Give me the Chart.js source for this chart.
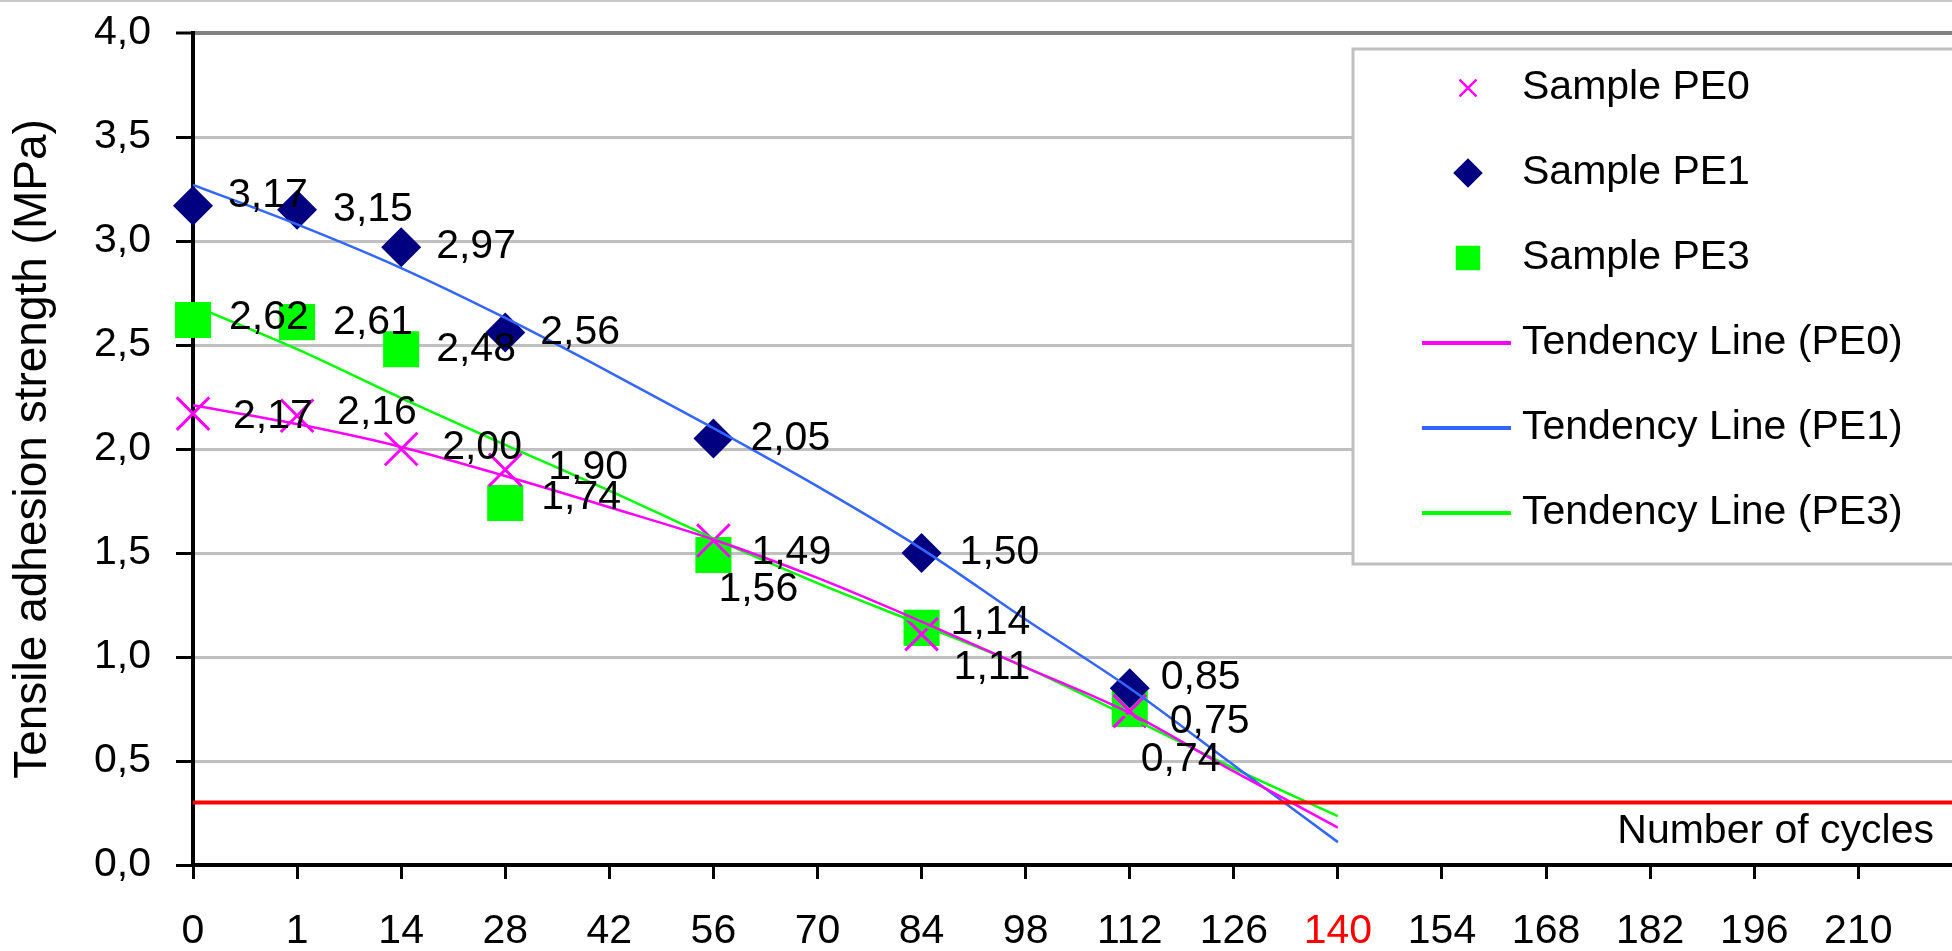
<!DOCTYPE html>
<html>
<head>
<meta charset="utf-8">
<title>Tensile adhesion strength</title>
<script src="https://cdn.jsdelivr.net/npm/chart.js@4.4.1/dist/chart.umd.min.js"></script>
<style>
  html, body { margin: 0; padding: 0; background: #fff; overflow: hidden; }
  canvas { display: block; }
</style>
</head>
<body>
<canvas id="adhesionChart" width="1952" height="951"></canvas>
<script>
// categories on the x axis (number of cycles)
const cycleTicks = [0, 1, 14, 28, 42, 56, 70, 84, 98, 112, 126, 140, 154, 168, 182, 196, 210];

// measured tensile adhesion strength (MPa)
const sampleCycles = [0, 1, 14, 28, 56, 84, 112];
const pe0Values = [2.17, 2.16, 2.00, 1.90, 1.56, 1.11, 0.74];
const pe1Values = [3.17, 3.15, 2.97, 2.56, 2.05, 1.50, 0.85];
const pe3Values = [2.62, 2.61, 2.48, 1.74, 1.49, 1.14, 0.75];

// tendency lines, cycles 0 .. 140
const trendCycles = [0, 1, 14, 28, 42, 56, 70, 84, 98, 112, 126, 140];
const trendPE0 = [2.21, 2.12, 2.01, 1.87, 1.72, 1.565, 1.38, 1.17, 0.95, 0.73, 0.45, 0.18];
const trendPE1 = [3.27, 3.08, 2.87, 2.63, 2.37, 2.10, 1.82, 1.52, 1.18, 0.85, 0.48, 0.11];
const trendPE3 = [2.69, 2.48, 2.245, 2.02, 1.80, 1.57, 1.355, 1.155, 0.95, 0.71, 0.465, 0.235];

// minimum required strength, and the cycle count where it is reached
const limitValue = 0.3;
const limitCycle = 140;

const yMin = 0, yMax = 4, yStep = 0.5;
const xAxisMax = 16.9;   // axis runs a little past the last label

const yTitle = 'Tensile adhesion strength (MPa)';
const xTitle = 'Number of cycles';

// label placement next to each point: [dx, dy] from the marker centre
const pe0LabelOffsets = [[40, 3], [40, -3], [41, -1], [43, -2], [5, 49], [32, 34], [11, 49]];
const pe1LabelOffsets = [[35, -10], [36, 0], [35, -1], [35, 0], [37, 0], [38, 0], [31, -11]];
const pe3LabelOffsets = [[36, -2], [36, 1], [35, 1], [36, -5], [38, -2], [29, -5], [40, 13]];

const FONT = '"Liberation Sans", Arial, sans-serif';
Chart.defaults.font.family = FONT;
Chart.defaults.font.size = 41;
Chart.defaults.color = '#000';

const pos = (c) => cycleTicks.indexOf(c);
const points = (xs, ys) => xs.map((c, i) => ({ x: pos(c), y: ys[i] }));
const fmt = (v, d) => v.toFixed(d).replace('.', ',');

const pe0Style = { pointStyle: 'crossRot', pointRadius: 23, pointBorderWidth: 3, pointBorderColor: '#ff00ff', pointBackgroundColor: '#ff00ff' };
const pe1Style = { pointStyle: 'rectRot', pointRadius: 20, pointBorderWidth: 0, pointBorderColor: '#000080', pointBackgroundColor: '#000080' };
const pe3Style = { pointStyle: 'rect', pointRadius: 25.5, pointBorderWidth: 0, pointBorderColor: '#00ff00', pointBackgroundColor: '#00ff00' };

function sampleSet(label, values, style, offsets) {
    return Object.assign({
        label: label,
        data: points(sampleCycles, values),
        showLine: false,
        clip: false,
        order: 3,
        labelOffsets: offsets
    }, style);
}

function trendSet(label, values, color) {
    return {
        label: label,
        data: points(trendCycles, values),
        showLine: true,
        borderColor: color,
        borderWidth: 2.5,
        pointRadius: 0,
        cubicInterpolationMode: 'monotone',
        order: 2
    };
}

const datasets = [
    sampleSet('Sample PE0', pe0Values, pe0Style, pe0LabelOffsets),
    sampleSet('Sample PE1', pe1Values, pe1Style, pe1LabelOffsets),
    sampleSet('Sample PE3', pe3Values, pe3Style, pe3LabelOffsets),
    trendSet('Tendency Line (PE0)', trendPE0, '#ff00ff'),
    trendSet('Tendency Line (PE1)', trendPE1, '#3366ff'),
    trendSet('Tendency Line (PE3)', trendPE3, '#00ff00'),
    {
        label: 'limit',
        data: [{ x: 0, y: limitValue }, { x: xAxisMax, y: limitValue }],
        showLine: true,
        borderColor: '#ff0000',
        borderWidth: 4,
        pointRadius: 0,
        order: 1
    }
];

// white page and the thin frame line at the top
const background = {
    id: 'background',
    beforeDraw(chart) {
        const ctx = chart.ctx;
        ctx.save();
        ctx.fillStyle = '#fff';
        ctx.fillRect(0, 0, chart.width, chart.height);
        ctx.fillStyle = '#c8c8c8';
        ctx.fillRect(0, 0, chart.width, 2);
        ctx.restore();
    }
};

// value labels beside the sample markers
const valueLabels = {
    id: 'valueLabels',
    afterDatasetsDraw(chart) {
        const ctx = chart.ctx;
        ctx.save();
        ctx.font = '41px ' + FONT;
        ctx.fillStyle = '#000';
        ctx.textAlign = 'left';
        ctx.textBaseline = 'middle';
        chart.data.datasets.forEach((ds, i) => {
            if (!ds.labelOffsets) return;
            chart.getDatasetMeta(i).data.forEach((pt, j) => {
                const off = ds.labelOffsets[j];
                ctx.fillText(fmt(ds.data[j].y, 2), pt.x + off[0], pt.y + off[1]);
            });
        });
        ctx.restore();
    }
};

// boxed legend inside the plot, plus the x axis caption
const boxLegend = {
    id: 'boxLegend',
    afterDraw(chart) {
        const ctx = chart.ctx;
        const area = chart.chartArea;

        ctx.save();
        ctx.font = '41px ' + FONT;
        ctx.fillStyle = '#000';
        ctx.textAlign = 'right';
        ctx.textBaseline = 'middle';
        ctx.fillText(xTitle, area.right - 18, area.bottom - 33);

        const left = area.left + 1160;
        const top = area.top + 16;
        const w = chart.width - left + 20;
        const h = 515;
        ctx.fillStyle = '#fff';
        ctx.fillRect(left, top, w, h);
        ctx.strokeStyle = '#c0c0c0';
        ctx.lineWidth = 3;
        ctx.strokeRect(left, top, w, h);

        const markerSize = [12, 13, 15.5];
        ctx.textAlign = 'left';
        chart.data.datasets.slice(0, 6).forEach((ds, i) => {
            const y = top + 39 + i * 85;
            if (i < 3) {
                ctx.fillStyle = ds.pointBackgroundColor;
                ctx.strokeStyle = ds.pointBorderColor;
                ctx.lineWidth = ds.pointStyle === 'crossRot' ? 2.5 : 0;
                Chart.helpers.drawPoint(ctx, {
                    pointStyle: ds.pointStyle,
                    radius: markerSize[i],
                    borderWidth: ctx.lineWidth,
                    rotation: 0
                }, left + 115, y);
            } else {
                ctx.strokeStyle = ds.borderColor;
                ctx.lineWidth = 4;
                ctx.beginPath();
                ctx.moveTo(left + 69, y);
                ctx.lineTo(left + 158, y);
                ctx.stroke();
            }
            ctx.fillStyle = '#000';
            ctx.fillText(ds.label, left + 169, y);
        });
        ctx.restore();
    }
};

new Chart(document.getElementById('adhesionChart').getContext('2d'), {
    type: 'scatter',
    data: { datasets: datasets },
    options: {
        responsive: false,
        animation: false,
        devicePixelRatio: 1,
        layout: { autoPadding: false, padding: { top: 33, right: 0, bottom: 0, left: 0 } },
        plugins: {
            legend: { display: false },
            tooltip: { enabled: false }
        },
        scales: {
            x: {
                type: 'linear',
                min: 0,
                max: xAxisMax,
                afterFit: (s) => {
                    s.height = 86;
                    s.paddingLeft = 0;
                    s.paddingRight = 0;
                },
                ticks: {
                    stepSize: 1,
                    autoSkip: false,
                    maxRotation: 0,
                    includeBounds: false,
                    padding: 28,
                    color: (c) => cycleTicks[c.tick.value] === limitCycle ? '#ff0000' : '#000',
                    callback: (v) => (cycleTicks[v] !== undefined ? String(cycleTicks[v]) : '')
                },
                grid: { drawOnChartArea: false, tickLength: 14, tickColor: '#000', tickWidth: 3 },
                border: { color: '#000', width: 4 }
            },
            y: {
                min: yMin,
                max: yMax,
                afterFit: (s) => {
                    s.width = 193;
                    s.paddingTop = 0;
                    s.paddingBottom = 0;
                },
                ticks: {
                    stepSize: yStep,
                    padding: 25,
                    callback: (v) => fmt(v, 1)
                },
                grid: {
                    color: (c) => c.tick.value === yMax ? '#808080' : (c.tick.value === yMin ? 'rgba(0,0,0,0)' : '#c0c0c0'),
                    lineWidth: (c) => (c.tick.value === yMax ? 4 : 3),
                    tickLength: 17,
                    tickColor: '#000',
                    tickWidth: 3
                },
                border: { color: '#000', width: 4 },
                title: {
                    display: true,
                    text: yTitle,
                    font: { size: 46 },
                    padding: { top: 6, bottom: 0 }
                }
            }
        }
    },
    plugins: [background, valueLabels, boxLegend]
});
</script>
</body>
</html>
